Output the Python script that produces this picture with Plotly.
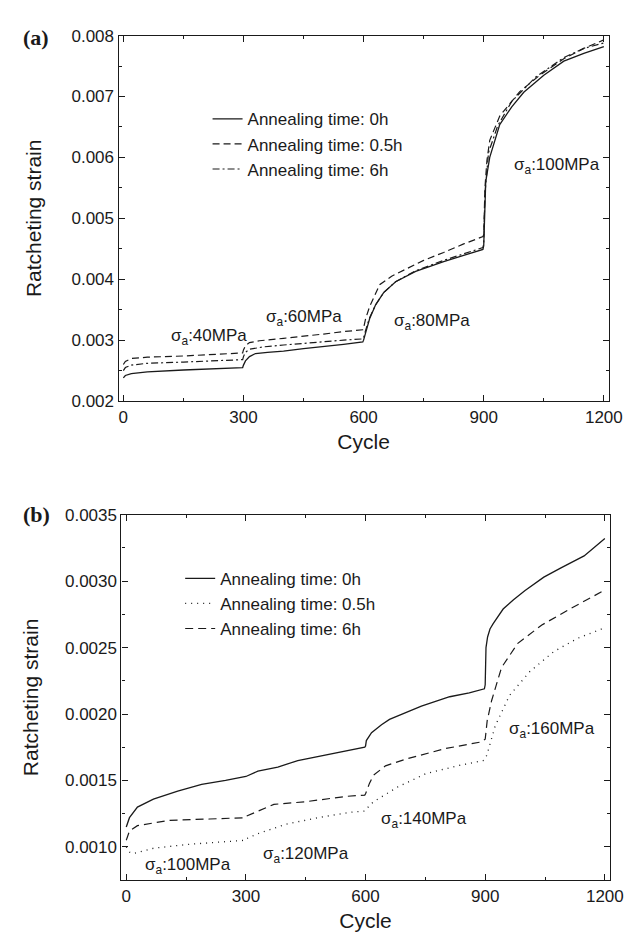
import plotly.graph_objects as go

# ---------------- Panel (a) data ----------------
a_cycles_0h = [0, 5, 20, 60, 150, 250, 298, 300, 305, 315, 330, 360, 400, 450, 500, 550, 598, 600, 605, 615, 630, 650, 680, 730, 800, 850, 898, 900, 902, 905, 915, 940, 970, 1000, 1050, 1100, 1150, 1200]
a_strain_0h = [0.00238, 0.00242, 0.00245, 0.00248, 0.00251, 0.00253, 0.00255, 0.00259, 0.00266, 0.00273, 0.00278, 0.00280, 0.00282, 0.00286, 0.00289, 0.00293, 0.00297, 0.00300, 0.00312, 0.00335, 0.00358, 0.00378, 0.00396, 0.00413, 0.00429, 0.00439, 0.00449, 0.00455, 0.00500, 0.00560, 0.00600, 0.00654, 0.00683, 0.00707, 0.00735, 0.00758, 0.00771, 0.00782]

a_cycles_05h = [0, 5, 20, 60, 150, 250, 298, 300, 305, 315, 340, 400, 450, 500, 550, 598, 600, 605, 615, 640, 670, 700, 750, 800, 850, 898, 900, 903, 908, 915, 940, 990, 1040, 1100, 1150, 1200]
a_strain_05h = [0.00260, 0.00265, 0.00270, 0.00272, 0.00274, 0.00277, 0.00279, 0.00284, 0.00291, 0.00296, 0.00299, 0.00303, 0.00306, 0.00310, 0.00314, 0.00317, 0.00320, 0.00335, 0.00355, 0.00391, 0.00405, 0.00415, 0.00431, 0.00444, 0.00458, 0.00470, 0.00473, 0.00550, 0.00595, 0.00628, 0.00668, 0.00708, 0.00735, 0.00762, 0.00779, 0.00793]

a_cycles_6h = [0, 5, 20, 60, 150, 250, 298, 300, 305, 315, 350, 400, 450, 500, 550, 598, 600, 605, 615, 630, 650, 680, 730, 800, 850, 898, 900, 903, 912, 935, 970, 1030, 1100, 1150, 1200]
a_strain_6h = [0.00250, 0.00255, 0.00259, 0.00262, 0.00264, 0.00266, 0.00268, 0.00273, 0.00280, 0.00285, 0.00289, 0.00292, 0.00295, 0.00298, 0.00300, 0.00302, 0.00304, 0.00316, 0.00337, 0.00358, 0.00378, 0.00396, 0.00414, 0.00431, 0.00442, 0.00452, 0.00459, 0.00540, 0.00608, 0.00652, 0.00692, 0.00732, 0.00764, 0.00779, 0.00788]

# ---------------- Panel (b) data ----------------
b_cycles_0h = [0, 8, 28, 68, 129, 189, 249, 298, 300, 330, 380, 430, 510, 598, 600, 602, 615, 640, 660, 700, 740, 811, 860, 898, 900, 902, 906, 912, 920, 945, 971, 1000, 1047, 1090, 1148, 1200]
b_strain_0h = [0.00115, 0.00122, 0.00130, 0.00136, 0.00142, 0.00147, 0.00150, 0.00153, 0.00153, 0.00157, 0.00160, 0.00165, 0.00170, 0.00175, 0.00176, 0.00180, 0.00186, 0.00192, 0.00196, 0.00201, 0.00206, 0.00213, 0.00216, 0.00219, 0.00222, 0.00250, 0.00258, 0.00264, 0.00268, 0.00279, 0.00286, 0.00293, 0.00303, 0.00310, 0.00319, 0.00332]

b_cycles_05h = [0, 8, 18, 68, 158, 298, 300, 330, 400, 480, 560, 598, 600, 620, 680, 750, 830, 895, 900, 905, 925, 961, 1012, 1072, 1132, 1192]
b_strain_05h = [0.00100, 0.00096, 0.00095, 0.00099, 0.00102, 0.00105, 0.00106, 0.00110, 0.00117, 0.00122, 0.00126, 0.00127, 0.00128, 0.00134, 0.00145, 0.00155, 0.00161, 0.00165, 0.00166, 0.00170, 0.00191, 0.00214, 0.00232, 0.00247, 0.00257, 0.00264]

b_cycles_6h = [0, 8, 28, 108, 209, 298, 300, 330, 370, 450, 550, 598, 600, 610, 620, 650, 700, 800, 890, 900, 905, 916, 941, 981, 1042, 1112, 1192]
b_strain_6h = [0.00105, 0.00112, 0.00116, 0.00120, 0.00121, 0.00122, 0.00123, 0.00127, 0.00132, 0.00134, 0.00138, 0.00139, 0.00140, 0.00148, 0.00154, 0.00161, 0.00166, 0.00174, 0.00179, 0.00181, 0.00195, 0.00210, 0.00235, 0.00253, 0.00267, 0.00279, 0.00292]

# Tick labels
x_ticks = [0, 300, 600, 900, 1200]
a_y_ticks = [0.002, 0.003, 0.004, 0.005, 0.006, 0.007, 0.008]
a_y_labels = ["0.002", "0.003", "0.004", "0.005", "0.006", "0.007", "0.008"]
a_y_minor = [0.0025, 0.0035, 0.0045, 0.0055, 0.0065, 0.0075]
b_y_ticks = [0.0010, 0.0015, 0.0020, 0.0025, 0.0030, 0.0035]
b_y_labels = ["0.0010", "0.0015", "0.0020", "0.0025", "0.0030", "0.0035"]
b_y_minor = [0.00125, 0.00175, 0.00225, 0.00275, 0.00325]

# Annotation texts / positions (data coordinates)
a_notes = ["σ<sub>a</sub>:40MPa", "σ<sub>a</sub>:60MPa", "σ<sub>a</sub>:80MPa", "σ<sub>a</sub>:100MPa"]
a_note_x = [215, 452, 770, 1084]
a_note_y = [0.00305, 0.00337, 0.00329, 0.00586]
b_notes = ["σ<sub>a</sub>:100MPa", "σ<sub>a</sub>:120MPa", "σ<sub>a</sub>:140MPa", "σ<sub>a</sub>:160MPa"]
b_note_x = [156, 450, 747, 1068]
b_note_y = [0.00086, 0.00094, 0.00120, 0.00188]

FONT = "Liberation Sans, Arial, sans-serif"
BLACK = "#1a1a1a"
W, H = 644, 937

fig = go.Figure()

# panel (a)
fig.add_trace(go.Scatter(x=a_cycles_0h, y=a_strain_0h, mode="lines", name="Annealing time: 0h",
                         line=dict(color=BLACK, width=1.3, dash="solid"), xaxis="x", yaxis="y", legend="legend"))
fig.add_trace(go.Scatter(x=a_cycles_05h, y=a_strain_05h, mode="lines", name="Annealing time: 0.5h",
                         line=dict(color=BLACK, width=1.2, dash="7px,4px"), xaxis="x", yaxis="y", legend="legend"))
fig.add_trace(go.Scatter(x=a_cycles_6h, y=a_strain_6h, mode="lines", name="Annealing time: 6h",
                         line=dict(color=BLACK, width=1.2, dash="7px,3px,2px,3px"), xaxis="x", yaxis="y", legend="legend"))

# panel (b)
fig.add_trace(go.Scatter(x=b_cycles_0h, y=b_strain_0h, mode="lines", name="Annealing time: 0h",
                         line=dict(color=BLACK, width=1.3, dash="solid"), xaxis="x2", yaxis="y2", legend="legend2"))
fig.add_trace(go.Scatter(x=b_cycles_05h, y=b_strain_05h, mode="lines", name="Annealing time: 0.5h",
                         line=dict(color=BLACK, width=1.3, dash="1px,5px"), xaxis="x2", yaxis="y2", legend="legend2"))
fig.add_trace(go.Scatter(x=b_cycles_6h, y=b_strain_6h, mode="lines", name="Annealing time: 6h",
                         line=dict(color=BLACK, width=1.2, dash="8px,5px"), xaxis="x2", yaxis="y2", legend="legend2"))

axis_common = dict(showline=True, linecolor=BLACK, linewidth=1.2, mirror="ticks", ticks="inside",
                   ticklen=6, tickcolor=BLACK, showgrid=False, zeroline=False,
                   tickfont=dict(family=FONT, size=17, color=BLACK))
title_font = dict(family=FONT, size=21, color=BLACK)

fig.update_layout(
    width=W, height=H,
    paper_bgcolor="white", plot_bgcolor="white",
    margin=dict(l=0, r=0, t=0, b=0),
    showlegend=True,
    xaxis=dict(domain=[113/W, 614/W], anchor="y", range=[-12, 1212], tickvals=x_ticks,
               minor=dict(ticks="inside", ticklen=3, tickcolor=BLACK, dtick=150),
               title=dict(text="Cycle", font=title_font, standoff=8), **axis_common),
    yaxis=dict(domain=[1 - 392/H, 1 - 19/H], anchor="x", range=[0.002, 0.008], tickvals=a_y_ticks,
               ticktext=a_y_labels,
               minor=dict(ticks="inside", ticklen=3, tickcolor=BLACK, tickvals=a_y_minor),
               title=dict(text="Ratcheting strain", font=title_font, standoff=24), **axis_common),
    xaxis2=dict(domain=[116/W, 615/W], anchor="y2", range=[-12, 1212], tickvals=x_ticks,
                minor=dict(ticks="inside", ticklen=3, tickcolor=BLACK, dtick=150),
                title=dict(text="Cycle", font=title_font, standoff=8), **axis_common),
    yaxis2=dict(domain=[1 - 881/H, 1 - 508/H], anchor="x2", range=[0.00075, 0.0035], tickvals=b_y_ticks,
                ticktext=b_y_labels,
                minor=dict(ticks="inside", ticklen=3, tickcolor=BLACK, tickvals=b_y_minor),
                title=dict(text="Ratcheting strain", font=title_font, standoff=20), **axis_common),
    legend=dict(x=204/W, y=1 - 86/H, xref="paper", yref="paper", xanchor="left", yanchor="top",
                bgcolor="rgba(0,0,0,0)", font=dict(family=FONT, size=17, color=BLACK),
                tracegroupgap=0, itemwidth=30),
    legend2=dict(x=176/W, y=1 - 555/H, xref="paper", yref="paper", xanchor="left", yanchor="top",
                 bgcolor="rgba(0,0,0,0)", font=dict(family=FONT, size=17, color=BLACK),
                 tracegroupgap=0, itemwidth=30),
)

for t, xx, yy in zip(a_notes, a_note_x, a_note_y):
    fig.add_annotation(text=t, x=xx, y=yy, xref="x", yref="y", showarrow=False,
                       font=dict(family=FONT, size=17, color=BLACK))
for t, xx, yy in zip(b_notes, b_note_x, b_note_y):
    fig.add_annotation(text=t, x=xx, y=yy, xref="x2", yref="y2", showarrow=False,
                       font=dict(family=FONT, size=17, color=BLACK))

fig.add_annotation(text="<b>(a)</b>", x=29/W, y=1 - 21/H, xref="paper", yref="paper", xanchor="center",
                   yanchor="middle", showarrow=False, font=dict(family="Liberation Serif, serif", size=22, color=BLACK))
fig.add_annotation(text="<b>(b)</b>", x=29/W, y=1 - 508/H, xref="paper", yref="paper", xanchor="center",
                   yanchor="middle", showarrow=False, font=dict(family="Liberation Serif, serif", size=22, color=BLACK))

fig.write_html("out.html")
